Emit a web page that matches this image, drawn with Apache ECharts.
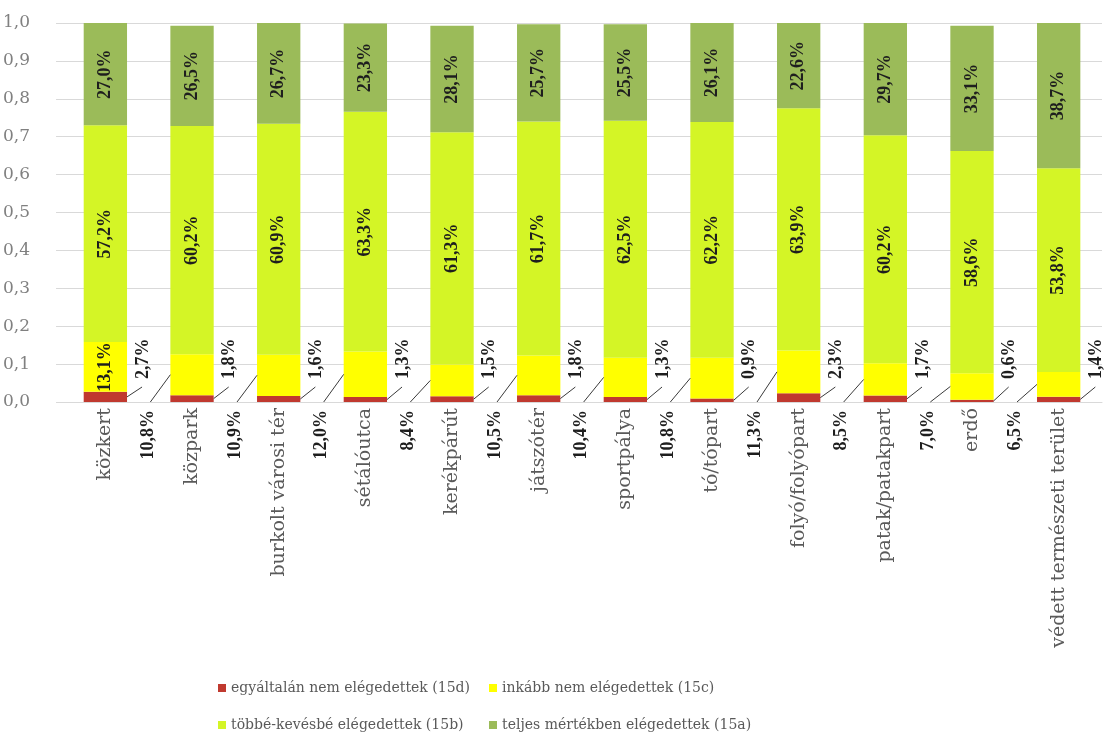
<!DOCTYPE html>
<html>
<head>
<meta charset="utf-8">
<script src="https://cdn.jsdelivr.net/npm/echarts@6/dist/echarts.min.js"></script>
<style>
  html, body { margin: 0; padding: 0; background: #ffffff; }
  #chart { width: 1105px; height: 742px; }
</style>
</head>
<body>
<div id="chart"></div>
<script>
// ---- data (percent values as printed on the chart) ----
var categories = ['közkert', 'közpark', 'burkolt városi tér', 'sétálóutca', 'kerékpárút', 'játszótér',
  'sportpálya', 'tó/tópart', 'folyó/folyópart', 'patak/patakpart', 'erdő', 'védett természeti terület'];
var seriesNames = ['egyáltalán nem elégedettek (15d)', 'inkább nem elégedettek (15c)',
  'többé-kevésbé elégedettek (15b)', 'teljes mértékben elégedettek (15a)'];
var notSatisfiedAtAll = [2.7, 1.8, 1.6, 1.3, 1.5, 1.8, 1.3, 0.9, 2.3, 1.7, 0.6, 1.4];
var ratherNotSatisfied = [13.1, 10.8, 10.9, 12.0, 8.4, 10.5, 10.4, 10.8, 11.3, 8.5, 7.0, 6.5];
var moreOrLessSatisfied = [57.2, 60.2, 60.9, 63.3, 61.3, 61.7, 62.5, 62.2, 63.9, 60.2, 58.6, 53.8];
var fullySatisfied = [27.0, 26.5, 26.7, 23.3, 28.1, 25.7, 25.5, 26.1, 22.6, 29.7, 33.1, 38.7];

var colors = ['#c0392f', '#ffff00', '#d4f526', '#9bbb59'];
var pct = function (v) { return v.toFixed(1).replace('.', ',') + '%'; };
var frac = function (arr) { return arr.map(function (v) { return v / 100; }); };

var labelFont = 'Liberation Serif';
var labelStyle = {
  show: true, position: 'inside', rotate: 90,
  fontFamily: labelFont, fontWeight: 'bold', fontSize: 18, color: '#1e1e1e'
};

var chart = echarts.init(document.getElementById('chart'), null, { renderer: 'canvas' });

function legendAt(name, left, top) {
  return {
    data: [name], left: left, top: top, orient: 'horizontal',
    icon: 'rect', itemWidth: 8, itemHeight: 8, itemGap: 0, selectedMode: false,
    textStyle: { fontFamily: 'DejaVu Serif', fontSize: 14, color: '#595959' }
  };
}

var option = {
  backgroundColor: '#ffffff',
  animation: false,
  color: colors,
  grid: { left: 61, right: 3, top: 23, bottom: 340, containLabel: false },
  legend: [
    legendAt(seriesNames[0], 213, 676),
    legendAt(seriesNames[1], 484, 676),
    legendAt(seriesNames[2], 213, 713),
    legendAt(seriesNames[3], 484, 713)
  ],
  xAxis: {
    type: 'category',
    data: categories,
    axisLine: { show: true, lineStyle: { color: '#d9d9d9' } },
    axisTick: { show: false },
    axisLabel: {
      rotate: 90, margin: 6, interval: 0,
      fontFamily: 'DejaVu Serif', fontSize: 19, color: '#5a5a5a'
    }
  },
  yAxis: {
    type: 'value', min: 0, max: 1, interval: 0.1,
    axisLine: { show: false },
    axisTick: { show: true, length: 6, lineStyle: { color: '#d9d9d9' } },
    splitLine: { show: true, lineStyle: { color: '#d9d9d9', width: 1 } },
    axisLabel: {
      margin: 32, fontFamily: 'DejaVu Serif', fontSize: 17, color: '#808080',
      formatter: function (v) { return v.toFixed(1).replace('.', ','); }
    }
  },
  series: [
    {
      name: seriesNames[0], type: 'bar', stack: 'total', barWidth: '50%',
      data: frac(notSatisfiedAtAll), label: { show: false }
    },
    {
      name: seriesNames[1], type: 'bar', stack: 'total', barWidth: '50%',
      data: frac(ratherNotSatisfied),
      label: Object.assign({}, labelStyle, {
        formatter: function (p) { return p.dataIndex === 0 ? pct(ratherNotSatisfied[0]) : ''; }
      })
    },
    {
      name: seriesNames[2], type: 'bar', stack: 'total', barWidth: '50%',
      data: frac(moreOrLessSatisfied),
      label: Object.assign({}, labelStyle, {
        formatter: function (p) { return pct(moreOrLessSatisfied[p.dataIndex]); }
      })
    },
    {
      name: seriesNames[3], type: 'bar', stack: 'total', barWidth: '50%',
      data: frac(fullySatisfied),
      label: Object.assign({}, labelStyle, {
        formatter: function (p) { return pct(fullySatisfied[p.dataIndex]); }
      })
    },
    {
      // outside labels with leader lines for the two small segments
      type: 'custom', coordinateSystem: 'cartesian2d', silent: true, z: 5,
      clip: false,
      data: categories.map(function (c, i) { return [i, notSatisfiedAtAll[i] / 100, ratherNotSatisfied[i] / 100]; }),
      encode: { x: 0, y: 1 },
      renderItem: function (params, api) {
        var i = api.value(0);
        var r = api.value(1), y = api.value(2);
        var base = api.coord([i, 0]);
        var band = api.size([1, 0])[0];
        var half = band * 0.25;
        var children = [];
        var font = 'bold 18px "' + labelFont + '"';
        // red segment label (to the right, above the axis)
        var rx = base[0] + half;
        var redMid = api.coord([i, r / 2])[1];
        children.push({
          type: 'line',
          shape: { x1: rx, y1: redMid, x2: rx + 15, y2: base[1] - 15 },
          style: { stroke: '#3a3a3a', lineWidth: 1 }
        });
        children.push({
          type: 'text', x: rx + 16, y: base[1] - 23, rotation: Math.PI / 2,
          style: { text: pct(notSatisfiedAtAll[i]), font: font, fill: '#1e1e1e', align: 'left', verticalAlign: 'middle' }
        });
        // yellow segment label (to the left, below the axis) — first bar has it inside
        if (i > 0) {
          var lx = base[0] - half;
          var yelMid = api.coord([i, r + y / 2])[1];
          children.push({
            type: 'line',
            shape: { x1: lx, y1: yelMid, x2: lx - 20, y2: base[1] },
            style: { stroke: '#3a3a3a', lineWidth: 1 }
          });
          children.push({
            type: 'text', x: lx - 22, y: base[1] + 8, rotation: Math.PI / 2,
            style: { text: pct(ratherNotSatisfied[i]), font: font, fill: '#1e1e1e', align: 'right', verticalAlign: 'middle' }
          });
        }
        return { type: 'group', children: children };
      }
    }
  ]
};
chart.setOption(option);
</script>
</body>
</html>
